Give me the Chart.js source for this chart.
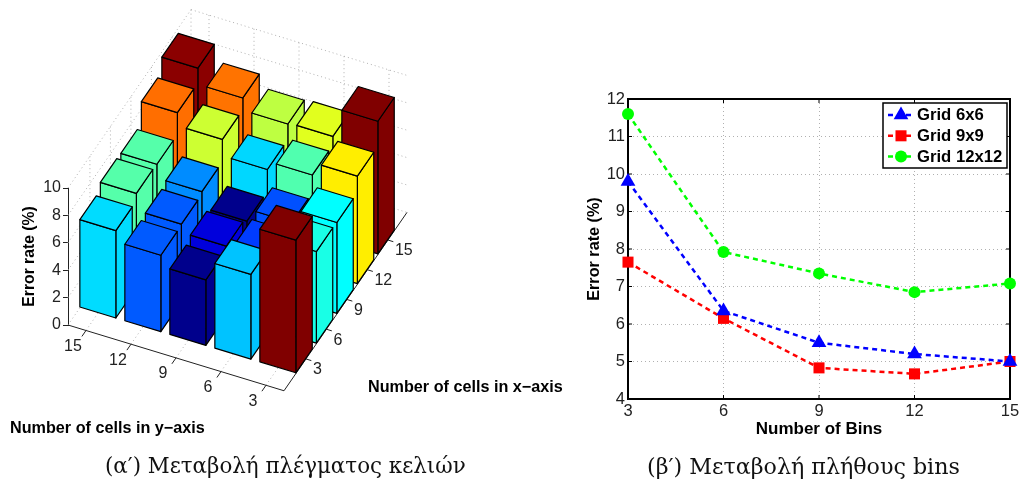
<!DOCTYPE html>
<html>
<head>
<meta charset="utf-8">
<script src="https://cdn.jsdelivr.net/npm/chart.js@4"></script>
<style>
  html, body { margin: 0; background: #fff; width: 1023px; height: 482px; overflow: hidden; }
  canvas { position: absolute; top: 0; }
  #bars3d { left: 0; }
  #lines { left: 575px; }
  .caption { position: absolute; top: 452px; font: 22px "DejaVu Serif", serif; color: #111; white-space: nowrap; line-height: 28px; }
</style>
</head>
<body>
<canvas id="bars3d" width="575" height="482"></canvas>
<canvas id="lines" width="448" height="482"></canvas>
<div class="caption" id="capA" style="left:105px;font-size:21.4px">(α′) Μεταβολή πλέγματος κελιών</div>
<div class="caption" id="capB" style="left:647px;font-size:22.2px">(β′) Μεταβολή πλήθους bins</div>
<script>
// left chart: error rate per grid, one array per x-axis cell count
var yCells = [15, 12, 9, 6, 3];
var xCells = [3, 6, 9, 12, 15];
var errX3 = [6.38, 5.58, 4.78, 6.18, 9.68];
var errX6 = [6.93, 5.68, 5.08, 5.48, 6.68];
var errX9 = [6.88, 5.88, 4.73, 5.63, 6.63];
var errX12 = [8.48, 7.53, 6.33, 6.93, 7.85];
var errX15 = [9.56, 8.38, 7.48, 7.58, 9.68];

// right chart
var bins = [3, 6, 9, 12, 15];
var grid6 = [9.8, 6.35, 5.5, 5.2, 5.0];
var grid9 = [7.65, 6.15, 4.83, 4.67, 5.0];
var grid12 = [11.6, 7.92, 7.35, 6.85, 7.08];

// bar colours, same order as the err arrays
var colX3 = ["#00dcff", "#005aff", "#00008c", "#00c3ff", "#800000"];
var colX6 = ["#55ffaa", "#005aff", "#0000dc", "#003cff", "#19ffe6"];
var colX9 = ["#55ffaa", "#008cff", "#00008c", "#0050ff", "#00ffff"];
var colX12 = ["#ff6e00", "#cdff32", "#00d7ff", "#50ffaf", "#ffee00"];
var colX15 = ["#8b0000", "#ff7300", "#beff41", "#e1ff1e", "#800000"];

var axisFont = "'Liberation Sans', Arial, sans-serif";
var textCol = "#222";

// oblique view: a runs along the y-axis edge, b along the x-axis edge
var aMax = 4.8, bMax = 6, barW = 0.8, bStart = 1.07, barBStart = 1.0, aShift = -0.01;
function project(chart, a, b, z) {
    return {
        x: chart.scales.x.getPixelForValue(45 * a + 20.5 * b),
        y: chart.scales.y.getPixelForValue(z - a + 2.17 * b)
    };
}
function line3d(ctx, chart, p, q) {
    var s = project(chart, p[0], p[1], p[2]), e = project(chart, q[0], q[1], q[2]);
    ctx.beginPath();
    ctx.moveTo(s.x, s.y);
    ctx.lineTo(e.x, e.y);
    ctx.stroke();
}
function face(ctx, chart, pts, col) {
    ctx.beginPath();
    pts.forEach(function(p, n) {
        var s = project(chart, p[0], p[1], p[2]);
        if (n == 0) ctx.moveTo(s.x, s.y); else ctx.lineTo(s.x, s.y);
    });
    ctx.closePath();
    ctx.fillStyle = col;
    ctx.fill();
    ctx.stroke();
}

var walls = {
    id: "walls",
    beforeDatasetsDraw: function(chart) {
        var ctx = chart.ctx, z, n;
        ctx.save();
        ctx.strokeStyle = "#b0b0b0";
        ctx.lineWidth = 1;
        ctx.setLineDash([1, 3]);
        for (z = 0; z <= 10; z += 2) {
            line3d(ctx, chart, [0, 0, z], [0, bMax, z]);
            line3d(ctx, chart, [0, bMax, z], [aMax, bMax, z]);
        }
        for (n = 0; n < 5; n++) {
            line3d(ctx, chart, [n + 0.4, 0, 0], [n + 0.4, bMax, 0]);
            line3d(ctx, chart, [n + 0.4, bMax, 0], [n + 0.4, bMax, 10]);
            line3d(ctx, chart, [0, n + bStart, 0], [aMax, n + bStart, 0]);
            line3d(ctx, chart, [0, n + bStart, 0], [0, n + bStart, 10]);
        }
        line3d(ctx, chart, [0, bMax, 0], [0, bMax, 10]);
        ctx.setLineDash([]);
        ctx.strokeStyle = "#222";
        line3d(ctx, chart, [0, 0, 0], [aMax, 0, 0]);
        line3d(ctx, chart, [aMax, 0, 0], [aMax, bMax, 0]);
        ctx.fillStyle = textCol;
        ctx.font = "16px " + axisFont;
        ctx.textBaseline = "middle";
        yCells.forEach(function(lab, n) {
            line3d(ctx, chart, [n + 0.4, 0, 0], [n + 0.4, -0.2, 0]);
            var p = project(chart, n + 0.4, 0, 0);
            ctx.textAlign = "center";
            ctx.fillText(lab, p.x - 13, p.y + 16);
        });
        xCells.forEach(function(lab, n) {
            line3d(ctx, chart, [aMax, n + bStart, 0], [aMax + 0.12, n + bStart, 0]);
            var p = project(chart, aMax, n + bStart, 0);
            ctx.textAlign = "left";
            ctx.fillText(lab, p.x + 7, p.y + 11);
        });
        ctx.font = "bold 16.2px " + axisFont;
        ctx.fillStyle = "#000";
        ctx.fillText("Number of cells in y\u2212axis", 10, 429);
        ctx.fillText("Number of cells in x\u2212axis", 368, 388);
        ctx.restore();
    }
};

var cuboids = {
    id: "cuboids",
    afterDatasetsDraw: function(chart) {
        var ctx = chart.ctx, sets = chart.data.datasets;
        ctx.save();
        ctx.strokeStyle = "#000";
        ctx.lineWidth = 1.2;
        ctx.lineJoin = "round";
        // back rows first, left to right, so nearer bars cover the far ones
        for (var r = sets.length - 1; r >= 0; r--) {
            sets[r].data.forEach(function(pt, c) {
                var a0 = c + 0.4 + aShift - barW / 2, a1 = a0 + barW;
                var b0 = r + barBStart - barW / 2, b1 = b0 + barW;
                var z = pt.y, col = sets[r].barColors[c];
                face(ctx, chart, [[a1, b0, 0], [a1, b1, 0], [a1, b1, z], [a1, b0, z]], col);
                face(ctx, chart, [[a0, b0, 0], [a1, b0, 0], [a1, b0, z], [a0, b0, z]], col);
                face(ctx, chart, [[a0, b0, z], [a1, b0, z], [a1, b1, z], [a0, b1, z]], col);
            });
        }
        ctx.restore();
    }
};

function row(label, vals, cols) {
    return {
        label: label,
        barColors: cols,
        pointRadius: 0,
        data: vals.map(function(v, c) { return { x: c, y: v }; })
    };
}

new Chart(document.getElementById("bars3d"), {
    type: "scatter",
    data: {
        datasets: [
            row("x=3", errX3, colX3),
            row("x=6", errX6, colX6),
            row("x=9", errX9, colX9),
            row("x=12", errX12, colX12),
            row("x=15", errX15, colX15)
        ]
    },
    options: {
        responsive: false,
        animation: false,
        layout: { padding: { left: 0, top: 188, right: 168, bottom: 157 } },
        plugins: { legend: { display: false }, tooltip: { enabled: false } },
        scales: {
            x: { display: false, min: 0, max: 339 },
            y: {
                min: 0, max: 10,
                afterFit: function(s) { s.width = 68; },
                ticks: { stepSize: 2, color: textCol, padding: 2, font: { family: axisFont, size: 16 } },
                grid: { drawOnChartArea: false, tickLength: 5, tickColor: "#222" },
                border: { color: "#222", width: 1 },
                title: { display: true, text: "Error rate (%)", color: "#000", padding: { top: 20, bottom: 0 }, font: { family: axisFont, size: 15.7, weight: "bold" } }
            }
        }
    },
    plugins: [walls, cuboids]
});

var frame = {
    id: "frame",
    beforeDatasetsDraw: function(chart) {
        var ctx = chart.ctx, a = chart.chartArea;
        ctx.save();
        ctx.strokeStyle = "#000";
        ctx.lineWidth = 1;
        chart.scales.x.ticks.forEach(function(t, n) {
            var px = chart.scales.x.getPixelForTick(n);
            ctx.beginPath();
            ctx.moveTo(px, a.top); ctx.lineTo(px, a.top + 4);
            ctx.moveTo(px, a.bottom); ctx.lineTo(px, a.bottom - 4);
            ctx.stroke();
        });
        chart.scales.y.ticks.forEach(function(t, n) {
            var py = chart.scales.y.getPixelForTick(n);
            ctx.beginPath();
            ctx.moveTo(a.left, py); ctx.lineTo(a.left + 4, py);
            ctx.moveTo(a.right, py); ctx.lineTo(a.right - 4, py);
            ctx.stroke();
        });
        ctx.lineWidth = 2;
        ctx.strokeRect(a.left, a.top, a.right - a.left, a.bottom - a.top);
        ctx.restore();
    }
};

// legend box inside the plot, top right like the original
var legendBox = {
    id: "legendBox",
    afterDraw: function(chart) {
        var ctx = chart.ctx, a = chart.chartArea;
        var bx = a.right - 127, by = a.top + 4, bw = 124, bh = 65;
        ctx.save();
        ctx.fillStyle = "#fff";
        ctx.fillRect(bx, by, bw, bh);
        ctx.strokeStyle = "#000";
        ctx.lineWidth = 1.5;
        ctx.strokeRect(bx, by, bw, bh);
        chart.data.datasets.forEach(function(ds, n) {
            var ly = by + 12 + n * 20.8;
            ctx.beginPath();
            ctx.setLineDash(ds.borderDash);
            ctx.strokeStyle = ds.borderColor;
            ctx.lineWidth = ds.borderWidth;
            ctx.moveTo(bx + 5, ly);
            ctx.lineTo(bx + 30, ly);
            ctx.stroke();
            ctx.setLineDash([]);
            ctx.fillStyle = ds.pointBackgroundColor;
            ctx.strokeStyle = ds.pointBackgroundColor;
            Chart.helpers.drawPoint(ctx, { pointStyle: ds.pointStyle, rotation: 0, radius: ds.pointRadius, borderWidth: 0 }, bx + 18, ly);
            ctx.fillStyle = "#000";
            ctx.font = "bold 16.7px " + axisFont;
            ctx.textAlign = "left";
            ctx.textBaseline = "middle";
            ctx.fillText(ds.label, bx + 34, ly + 0.5);
        });
        ctx.restore();
    }
};

function curve(label, vals, col, style, radius) {
    return {
        label: label,
        data: vals,
        borderColor: col,
        borderWidth: 2.5,
        borderDash: [5, 4],
        pointStyle: style,
        pointRadius: radius,
        pointBackgroundColor: col,
        pointBorderColor: col,
        pointBorderWidth: 0,
        clip: false,
        tension: 0
    };
}

new Chart(document.getElementById("lines"), {
    type: "line",
    data: {
        labels: bins,
        datasets: [
            curve("Grid 6x6", grid6, "#0000ff", "triangle", 8.5),
            curve("Grid 9x9", grid9, "#ff0000", "rect", 7.8),
            curve("Grid 12x12", grid12, "#00ff00", "circle", 6)
        ]
    },
    options: {
        responsive: false,
        animation: false,
        layout: { padding: { left: 0, top: 99, right: 13, bottom: 41 } },
        plugins: { legend: { display: false }, tooltip: { enabled: false } },
        scales: {
            x: {
                afterFit: function(s) { s.height = 42; },
                ticks: { color: textCol, padding: 3, maxRotation: 0, font: { family: axisFont, size: 16.5 } },
                grid: { drawTicks: false, color: "#b0b0b0" },
                border: { color: "#000", width: 2, dash: [1, 3] },
                title: { display: true, text: "Number of Bins", color: "#000", padding: { top: 0, bottom: 1 }, font: { family: axisFont, size: 17, weight: "bold" } }
            },
            y: {
                min: 4, max: 12,
                afterFit: function(s) { s.width = 53; },
                ticks: { stepSize: 1, color: textCol, padding: 3, font: { family: axisFont, size: 16.5 } },
                grid: { drawTicks: false, color: "#b0b0b0" },
                border: { color: "#000", width: 2, dash: [1, 3] },
                title: { display: true, text: "Error rate (%)", color: "#000", padding: { top: 10, bottom: 0 }, font: { family: axisFont, size: 16.2, weight: "bold" } }
            }
        }
    },
    plugins: [frame, legendBox]
});
</script>
</body>
</html>
